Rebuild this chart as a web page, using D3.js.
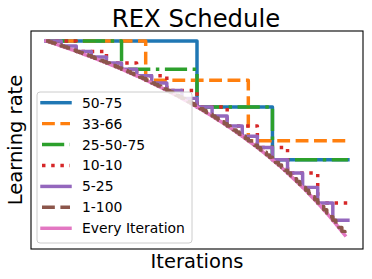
<!DOCTYPE html>
<html>
<head>
<meta charset="utf-8">
<script src="https://cdn.jsdelivr.net/npm/d3@7"></script>
<style>
    body { margin: 0; background: #fff; }
    text { font-family: "DejaVu Sans", sans-serif; fill: #000; }
</style>
</head>
<body>
<svg id="chart" width="372" height="279"></svg>
<script>
// learning rate read at every 1% of the run (index = percent done)
let rexLevels = [
    1.000, 0.995, 0.990, 0.985, 0.980, 0.974, 0.969, 0.964, 0.958, 0.953,
    0.947, 0.942, 0.936, 0.930, 0.925, 0.919, 0.913, 0.907, 0.901, 0.895,
    0.889, 0.883, 0.876, 0.870, 0.864, 0.857, 0.851, 0.844, 0.837, 0.830,
    0.824, 0.817, 0.810, 0.802, 0.795, 0.788, 0.780, 0.773, 0.765, 0.758,
    0.750, 0.742, 0.734, 0.726, 0.718, 0.710, 0.701, 0.693, 0.684, 0.675,
    0.667, 0.658, 0.649, 0.639, 0.630, 0.621, 0.611, 0.601, 0.592, 0.582,
    0.571, 0.561, 0.551, 0.540, 0.529, 0.519, 0.507, 0.496, 0.485, 0.473,
    0.462, 0.450, 0.438, 0.425, 0.413, 0.400, 0.387, 0.374, 0.361, 0.347,
    0.333, 0.319, 0.305, 0.291, 0.276, 0.261, 0.246, 0.230, 0.214, 0.198,
    0.182, 0.165, 0.148, 0.131, 0.113, 0.095, 0.077, 0.058, 0.039, 0.020
];

let labels = ['50-75', '33-66', '25-50-75', '10-10', '5-25', '1-100', 'Every Iteration'];

// percent of the run where each schedule drops its rate
let drops_50_75 = [0, 50, 75];
let drops_33_66 = [0, 33, 67];
let drops_25_50_75 = [0, 25, 50, 75];
let drops_10_10 = [0, 10, 20, 30, 40, 50, 60, 70, 80, 90];
let drops_5_25 = [0, 5, 10, 15, 20, 25, 30, 35, 40, 45, 50, 55, 60, 65, 70, 75, 80, 85, 90, 95];
let drops_1_100 = d3.range(0, 100);

var config = {
    left: 31,
    right: 363,
    top: 31,
    bottom: 249,
    lw: 3.47
}

let lw = config.lw;
let styles = [
    { color: '#1f77b4', dash: null },
    { color: '#ff7f0e', dash: [3.7 * lw, 1.6 * lw] },
    { color: '#2ca02c', dash: [6.4 * lw, 1.6 * lw, 1 * lw, 1.6 * lw] },
    { color: '#d62728', dash: [1 * lw, 1.65 * lw] },
    { color: '#9467bd', dash: null },
    { color: '#8c564b', dash: [3.7 * lw, 1.6 * lw] },
    { color: '#e377c2', dash: null }
];

let svg = d3.select('#chart');

let x = d3.scaleLinear()
    .domain([-5, 105])
    .range([config.left, config.right]);

let y = d3.scaleLinear()
    .domain([-0.05, 1.05])
    .range([config.bottom, config.top]);

function stepPoints(drops){
    // each drop holds the rate seen at that point until the next drop
    let pts = [];
    for(let i = 0; i < drops.length; i++){
        let end = (i + 1 < drops.length) ? drops[i + 1] : 100;
        pts.push([drops[i], rexLevels[drops[i]]]);
        pts.push([end, rexLevels[drops[i]]]);
    }
    return pts;
}

let series = [
    stepPoints(drops_50_75),
    stepPoints(drops_33_66),
    stepPoints(drops_25_50_75),
    stepPoints(drops_10_10),
    stepPoints(drops_5_25),
    stepPoints(drops_1_100),
    rexLevels.map(function(v, i){ return [i, v] })
];

var line = d3.line()
    .x(function(d){ return x(d[0]) })
    .y(function(d){ return y(d[1]) });

// pink goes under the brown dashes, as in the picture
let drawOrder = [0, 1, 2, 3, 4, 6, 5];

svg.append('g')
    .attr('id', 'lines')
    .selectAll('path')
    .data(drawOrder)
    .join('path')
    .attr('d', function(d){ return line(series[d]) })
    .attr('fill', 'none')
    .attr('stroke', function(d){ return styles[d].color })
    .attr('stroke-width', lw)
    .attr('stroke-linejoin', 'round')
    .attr('stroke-linecap', function(d){ return styles[d].dash ? 'butt' : 'square' })
    .attr('stroke-dasharray', function(d){ return styles[d].dash ? styles[d].dash.join(',') : null });

svg.append('rect')
    .attr('x', config.left)
    .attr('y', config.top)
    .attr('width', config.right - config.left)
    .attr('height', config.bottom - config.top)
    .attr('fill', 'none')
    .attr('stroke', '#000')
    .attr('stroke-width', 1.1);

// legend
let legend = svg.append('g').attr('id', 'legend');
legend.append('rect')
    .attr('x', 37)
    .attr('y', 92)
    .attr('width', 155)
    .attr('height', 151)
    .attr('rx', 3)
    .attr('fill', '#fff')
    .attr('fill-opacity', 0.8)
    .attr('stroke', '#cccccc')
    .attr('stroke-width', 1);

let rows = legend.selectAll('g.row')
    .data(labels)
    .join('g')
    .attr('class', 'row')
    .attr('transform', function(d, i){
        return 'translate(0,' + (102.7 + i * 20.93) + ')'
    });

rows.append('line')
    .attr('x1', 42)
    .attr('x2', 70)
    .attr('y1', 0)
    .attr('y2', 0)
    .attr('stroke', function(d, i){ return styles[i].color })
    .attr('stroke-width', lw)
    .attr('stroke-linecap', function(d, i){ return styles[i].dash ? 'butt' : 'square' })
    .attr('stroke-dasharray', function(d, i){ return styles[i].dash ? styles[i].dash.join(',') : null });

rows.append('text')
    .attr('x', 82)
    .attr('y', 5)
    .attr('font-size', '13.9px')
    .text(function(d){ return d });

svg.append('text')
    .attr('x', 196)
    .attr('y', 26.5)
    .attr('text-anchor', 'middle')
    .attr('font-size', '24.3px')
    .text('REX Schedule');

svg.append('text')
    .attr('x', 197)
    .attr('y', 268)
    .attr('text-anchor', 'middle')
    .attr('font-size', '19.5px')
    .text('Iterations');

svg.append('text')
    .attr('transform', 'translate(22,140) rotate(-90)')
    .attr('text-anchor', 'middle')
    .attr('font-size', '19.5px')
    .text('Learning rate');
</script>
</body>
</html>
